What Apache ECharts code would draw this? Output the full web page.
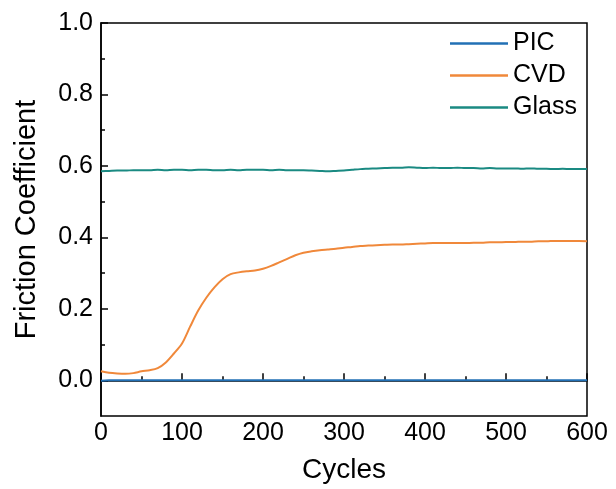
<!DOCTYPE html>
<html>
<head>
<meta charset="utf-8">
<script src="https://cdn.jsdelivr.net/npm/echarts@6/dist/echarts.min.js"></script>
<style>html,body{margin:0;padding:0;background:#fff}#c{width:616px;height:489px}</style>
</head>
<body>
<div id="c"></div>
<script>
var cycles = [0,10,20,30,40,50,60,70,80,90,100,110,120,130,140,150,160,170,180,190,200,210,220,230,240,250,260,270,280,290,300,310,320,330,340,350,360,370,380,390,400,410,420,430,440,450,460,470,480,490,500,510,520,530,540,550,560,570,580,590,600];
var pic = [-0.001,0.000,0.000,0.000,0.000,0.000,0.000,0.000,0.000,0.000,0.000,0.000,0.000,0.000,0.000,0.000,0.000,0.000,0.000,0.000,0.000,0.000,0.000,0.000,0.000,0.000,0.000,0.000,0.000,0.000,0.000,0.000,0.000,0.000,0.000,0.000,0.000,0.000,0.000,0.000,0.000,0.000,0.000,0.000,0.000,0.000,0.000,0.000,0.000,0.000,0.000,0.000,0.000,0.000,0.000,0.000,0.000,0.000,0.000,0.000,0.000];
var cvd = [0.025,0.021,0.019,0.018,0.020,0.025,0.028,0.034,0.050,0.075,0.103,0.150,0.195,0.231,0.260,0.283,0.297,0.302,0.305,0.307,0.312,0.320,0.330,0.340,0.350,0.357,0.361,0.364,0.366,0.368,0.371,0.373,0.376,0.377,0.378,0.379,0.380,0.380,0.381,0.382,0.383,0.384,0.384,0.384,0.384,0.384,0.385,0.385,0.386,0.386,0.387,0.387,0.388,0.388,0.389,0.389,0.390,0.390,0.390,0.390,0.389];
var glass = [0.585,0.586,0.587,0.587,0.588,0.588,0.588,0.589,0.588,0.589,0.589,0.588,0.589,0.589,0.588,0.588,0.589,0.588,0.589,0.589,0.589,0.588,0.589,0.588,0.588,0.588,0.587,0.586,0.585,0.586,0.587,0.589,0.591,0.592,0.593,0.594,0.595,0.595,0.596,0.595,0.594,0.595,0.594,0.594,0.595,0.594,0.594,0.593,0.594,0.593,0.593,0.593,0.592,0.593,0.592,0.592,0.591,0.592,0.591,0.591,0.591];
var seriesNames = ['PIC','CVD','Glass'];
var yMajor = [0,0.2,0.4,0.6,0.8,1.0];
var yMinor = [0.1,0.3,0.5,0.7,0.9];

function pairs(arr){ return cycles.map(function(c,i){ return [c, arr[i]]; }); }

var chart = echarts.init(document.getElementById('c'), null, {renderer:'canvas'});
var font = 'Liberation Sans, Arial, sans-serif';
var axisLine = {show:true, lineStyle:{color:'#000', width:1.5}};
chart.setOption({
  animation:false,
  backgroundColor:'#fff',
  grid:{left:101, right:29, top:23, bottom:73, show:true, borderColor:'#000', borderWidth:1.5, containLabel:false},
  legend:{
    orient:'vertical', left:450, top:31, padding:0, itemGap:7, itemWidth:58, itemHeight:2.5,
    icon:'rect',
    textStyle:{fontFamily:font, fontSize:25, color:'#000', lineHeight:25},
    data:seriesNames
  },
  xAxis:{
    type:'value', min:0, max:600, interval:100,
    name:'Cycles', nameLocation:'middle', nameGap:40,
    nameTextStyle:{fontFamily:font, fontSize:28, color:'#000'},
    axisLine:axisLine,
    axisTick:{show:true, inside:true, length:7, lineStyle:{color:'#000', width:1.5}},
    minorTick:{show:true, splitNumber:2, length:4, lineStyle:{color:'#000', width:1.5}},
    axisLabel:{fontFamily:font, fontSize:25, color:'#000', margin:5},
    splitLine:{show:false}, minorSplitLine:{show:false}
  },
  yAxis:[{
    type:'value', min:-0.1, max:1.0, position:'left',
    name:'Friction Coefficient', nameLocation:'middle', nameGap:60,
    nameTextStyle:{fontFamily:font, fontSize:29, color:'#000'},
    axisLine:axisLine,
    axisTick:{show:true, inside:true, length:7, customValues:yMajor, lineStyle:{color:'#000', width:1.5}},
    axisLabel:{fontFamily:font, fontSize:25, color:'#000', margin:8, customValues:yMajor,
      formatter:function(v){ return (+v).toFixed(1); }},
    splitLine:{show:false}
  },{
    type:'value', min:-0.1, max:1.0, position:'left', offset:0,
    axisLine:{show:false},
    axisTick:{show:true, inside:true, length:4, customValues:yMinor, lineStyle:{color:'#000', width:1.5}},
    axisLabel:{show:false, customValues:yMinor},
    splitLine:{show:false}
  }],
  series:[
    {name:seriesNames[0], type:'line', data:pairs(pic), symbol:'none', smooth:0.3, yAxisIndex:0, z:5,
      lineStyle:{color:'#2270b5', width:2}, itemStyle:{color:'#2270b5'}},
    {name:seriesNames[1], type:'line', data:pairs(cvd), symbol:'none', smooth:0.3, yAxisIndex:0, z:4,
      lineStyle:{color:'#f0883a', width:2}, itemStyle:{color:'#f0883a'}},
    {name:seriesNames[2], type:'line', data:pairs(glass), symbol:'none', smooth:0.3, yAxisIndex:0, z:3,
      lineStyle:{color:'#1a8a82', width:2}, itemStyle:{color:'#1a8a82'}}
  ]
});
</script>
</body>
</html>
